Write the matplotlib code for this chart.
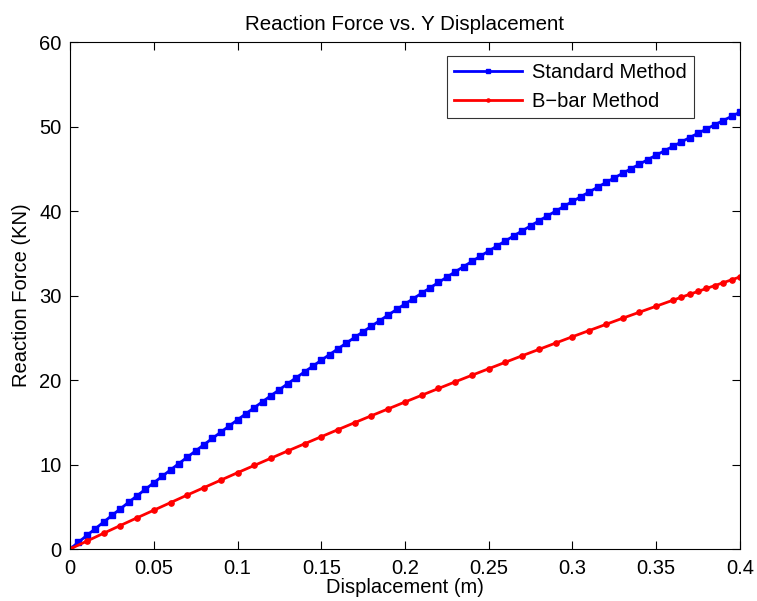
import numpy as np
import matplotlib.pyplot as plt

plt.rcParams['font.family'] = ['Liberation Sans', 'DejaVu Sans']

# desplazamiento (m) y fuerza de reaccion (KN)
x_std = np.arange(81) * 0.005
f_std = [0, 0.80, 1.60, 2.39, 3.18, 3.97, 4.75, 5.53, 6.30, 7.07,
         7.84, 8.60, 9.36, 10.12, 10.87, 11.61, 12.36, 13.09, 13.83, 14.56,
         15.29, 16.01, 16.73, 17.44, 18.16, 18.86, 19.57, 20.27, 20.96, 21.65,
         22.34, 23.02, 23.70, 24.38, 25.05, 25.72, 26.38, 27.04, 27.70, 28.35,
         29.00, 29.64, 30.28, 30.92, 31.55, 32.18, 32.81, 33.43, 34.04, 34.66,
         35.27, 35.87, 36.47, 37.07, 37.66, 38.25, 38.84, 39.42, 39.99, 40.57,
         41.14, 41.70, 42.26, 42.82, 43.38, 43.93, 44.47, 45.01, 45.55, 46.09,
         46.62, 47.14, 47.66, 48.18, 48.70, 49.21, 49.71, 50.22, 50.71, 51.21,
         51.70]

x_bbar = [0, 0.01, 0.02, 0.03, 0.04, 0.05, 0.06, 0.07, 0.08, 0.09,
          0.10, 0.11, 0.12, 0.13, 0.14, 0.15, 0.16, 0.17, 0.18, 0.19,
          0.20, 0.21, 0.22, 0.23, 0.24, 0.25, 0.26, 0.27, 0.28, 0.29,
          0.30, 0.31, 0.32, 0.33, 0.34, 0.35, 0.36, 0.365, 0.37, 0.375,
          0.38, 0.385, 0.39, 0.395, 0.40]
f_bbar = [0, 0.93, 1.86, 2.78, 3.69, 4.59, 5.49, 6.39, 7.27, 8.15,
          9.03, 9.89, 10.75, 11.61, 12.45, 13.29, 14.13, 14.96, 15.78, 16.59,
          17.40, 18.20, 19.00, 19.79, 20.57, 21.34, 22.11, 22.88, 23.63, 24.38,
          25.13, 25.86, 26.59, 27.32, 28.03, 28.74, 29.45, 29.80, 30.15, 30.49,
          30.84, 31.18, 31.52, 31.86, 32.20]

fig = plt.figure(figsize=(7.57, 6.01), dpi=100)
ax = fig.add_axes([0.0925, 0.0865, 0.885, 0.8435])

ax.plot(x_std, f_std, color='blue', lw=2, marker='s', ms=3.8, label='Standard Method')
ax.plot(x_bbar, f_bbar, color='red', lw=2, marker='o', ms=3.8, label='B\u2212bar Method')

ax.set_xlim(0, 0.4)
ax.set_ylim(0, 60)
ax.set_xticks([0, 0.05, 0.1, 0.15, 0.2, 0.25, 0.3, 0.35, 0.4])
ax.set_xticklabels(['0', '0.05', '0.1', '0.15', '0.2', '0.25', '0.3', '0.35', '0.4'])
ax.set_yticks(range(0, 61, 10))
ax.tick_params(direction='in', top=True, right=True, labelsize=14.5, length=6)
ax.tick_params(axis='x', pad=7)
ax.tick_params(axis='y', pad=6)
for s in ax.spines.values():
    s.set_linewidth(0.8)

ax.set_xlabel('Displacement (m)', fontsize=14.5, labelpad=0)
ax.set_ylabel('Reaction Force (KN)', fontsize=14.5, labelpad=6)
ax.set_title('Reaction Force vs. Y Displacement', fontsize=14.8, pad=9)

leg = ax.legend(loc='upper right', bbox_to_anchor=(0.931, 0.972), fontsize=14.5,
                fancybox=False, edgecolor='black', markerscale=0.6, handlelength=3.35,
                handletextpad=0.5, borderpad=0.35, labelspacing=0.5, borderaxespad=0)
leg.get_frame().set_linewidth(0.8)

fig.savefig('out.png', dpi=100)
